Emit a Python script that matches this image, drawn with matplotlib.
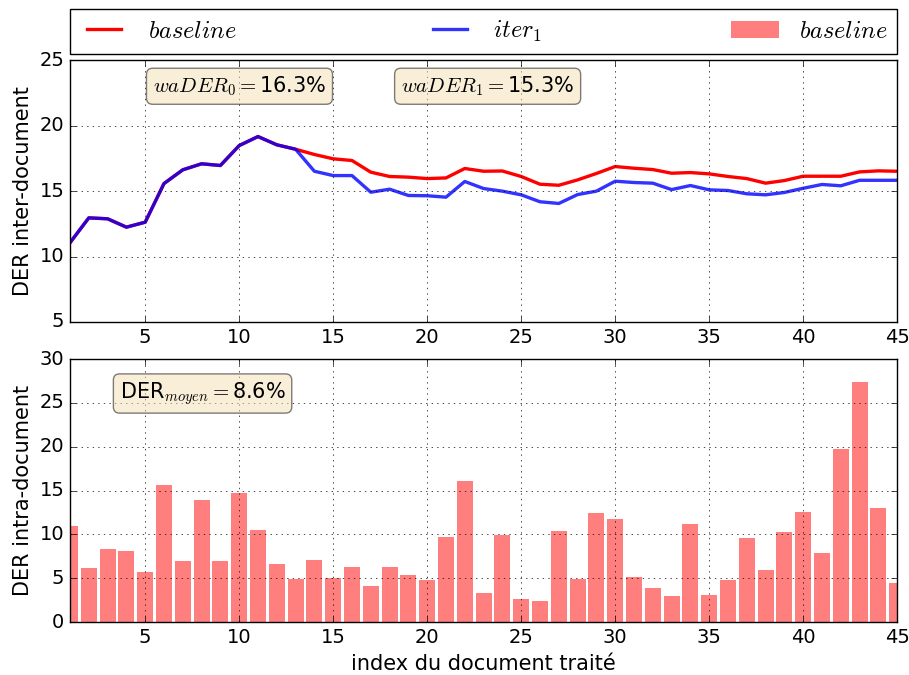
import matplotlib
matplotlib.use("Agg")
import matplotlib.pyplot as plt

plt.style.use("classic")
plt.rcParams["mathtext.fontset"] = "cm"
plt.rcParams["figure.facecolor"] = "white"
plt.rcParams["savefig.facecolor"] = "white"
plt.rcParams["axes.labelsize"] = 15
plt.rcParams["xtick.labelsize"] = 14
plt.rcParams["ytick.labelsize"] = 14

docs = list(range(1, 46))

der_baseline = [11.05, 12.95, 12.88, 12.24, 12.62, 15.57, 16.62, 17.08, 16.95, 18.47,
                19.16, 18.53, 18.19, 17.79, 17.46, 17.33, 16.44, 16.11, 16.06, 15.95,
                16.0, 16.72, 16.51, 16.53, 16.11, 15.52, 15.44, 15.85, 16.34, 16.87,
                16.74, 16.64, 16.36, 16.41, 16.31, 16.11, 15.95, 15.6, 15.8, 16.13,
                16.13, 16.13, 16.46, 16.54, 16.51]

der_iter1 = [11.05, 12.95, 12.88, 12.24, 12.62, 15.57, 16.62, 17.08, 16.95, 18.47,
             19.16, 18.53, 18.19, 16.51, 16.18, 16.18, 14.91, 15.14, 14.66, 14.64,
             14.53, 15.73, 15.19, 14.99, 14.71, 14.18, 14.05, 14.73, 14.99, 15.75,
             15.65, 15.6, 15.11, 15.42, 15.09, 15.04, 14.79, 14.71, 14.89, 15.21,
             15.5, 15.4, 15.82, 15.82, 15.82]

der_intra = [10.94, 6.14, 8.31, 8.08, 5.68, 15.63, 6.94, 13.91, 6.94, 14.75,
             10.48, 6.6, 4.96, 7.05, 5.0, 6.25, 4.08, 6.25, 5.34, 4.77,
             9.68, 16.09, 3.28, 9.91, 2.6, 2.37, 10.37, 4.88, 12.43, 11.74,
             5.11, 3.85, 2.94, 11.17, 3.05, 4.77, 9.57, 5.91, 10.25, 12.54,
             7.85, 19.74, 27.4, 13.0, 4.42]

wader = [16.3, 15.3]
der_moyen = 8.6

fig = plt.figure(figsize=(9.09, 6.75), dpi=100)
ax1 = fig.add_axes([0.077, 0.523, 0.91, 0.388])
ax2 = fig.add_axes([0.077, 0.0785, 0.91, 0.3895])

box = dict(boxstyle="round", facecolor="wheat", alpha=0.5)

# courbes DER cumulé : baseline et première itération
l1, = ax1.plot(docs, der_baseline, color="r", lw=2.4, label="$baseline$")
l2, = ax1.plot(docs, der_iter1, color="b", lw=2.4, alpha=0.8, label="$iter_1$")
ax1.set_xlim(1, 45)
ax1.set_ylim(5, 25)
ax1.set_yticks(range(5, 26, 5))
ax1.set_ylabel("DER inter-document")
ax1.grid(True)
ax1.text(0.1, 0.945, r"$waDER_0 = $%.1f%%" % wader[0], transform=ax1.transAxes,
         va="top", fontsize=15, bbox=box)
ax1.text(0.4, 0.945, r"$waDER_1 = $%.1f%%" % wader[1], transform=ax1.transAxes,
         va="top", fontsize=15, bbox=box)

# DER par document
bars = ax2.bar(docs, der_intra, width=0.85, align="center", color="r", alpha=0.5,
               edgecolor="none", label="$baseline$")
ax2.set_xlim(1, 45)
ax2.set_ylim(0, 30)
ax2.set_ylabel("DER intra-document")
ax2.set_xlabel("index du document traité")
ax2.grid(True)
ax2.text(0.06, 0.92, r"DER$_{moyen} = $%.1f%%" % der_moyen, transform=ax2.transAxes,
         va="top", fontsize=15, bbox=box)

ax1.legend([l1, l2, bars], ["$baseline$", "$iter_1$", "$baseline$"],
           bbox_to_anchor=(0., 1.025, 1., .15), loc=3, ncol=3, mode="expand",
           borderaxespad=0., fontsize=17.5)

fig.savefig("out.png", dpi=100)
